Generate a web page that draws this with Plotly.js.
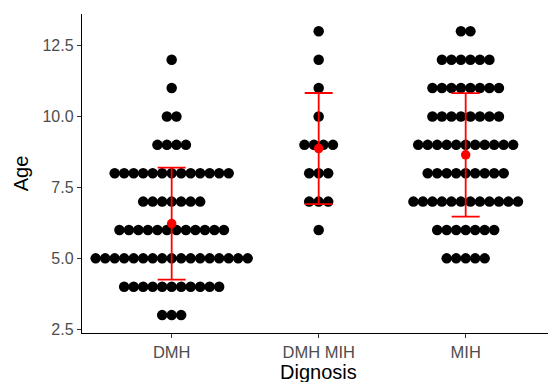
<!DOCTYPE html>
<html>
<head>
<meta charset="utf-8">
<script src="https://cdn.plot.ly/plotly-3.0.1.min.js"></script>
<style>html,body{margin:0;padding:0;background:#fff;}#chart{width:548px;height:382px;}</style>
</head>
<body>
<div id="chart"></div>
<script>
// ---- data ----
var categories = ["DMH", "DMH MIH", "MIH"];
var ages = [3, 4, 5, 6, 7, 8, 9, 10, 11, 12, 13];
var countsDMH    = [3, 11, 17, 12, 7, 13, 4, 2, 1, 1, 0];
var countsDMHMIH = [0, 0, 0, 1, 3, 3, 4, 1, 1, 1, 1];
var countsMIH    = [0, 0, 5, 7, 12, 9, 11, 8, 8, 6, 2];
var yTickVals = [2.5, 5.0, 7.5, 10.0, 12.5];
var yTickText = ["2.5", "5.0", "7.5", "10.0", "12.5"];

// ---- layout geometry ----
var W = 548, H = 382;
var mL = 82, mR = 0, mT = 14, mB = 49;
var xRange = [0.39, 3.56];
var yRange = [2.37, 13.61];
var plotW = W - mL - mR;
var pxPerX = plotW / (xRange[1] - xRange[0]);
var dotStepPx = 9.5;
var dotStep = dotStepPx / pxPerX;

var groups = [countsDMH, countsDMHMIH, countsMIH];
var dx = [], dy = [];
var means = [], sds = [], gx = [];
groups.forEach(function (counts, gi) {
  var vals = [];
  counts.forEach(function (n, ai) {
    for (var k = 0; k < n; k++) {
      dx.push(gi + 1 + (k - (n - 1) / 2) * dotStep);
      dy.push(ages[ai]);
      vals.push(ages[ai]);
    }
  });
  var m = vals.reduce(function (a, b) { return a + b; }, 0) / vals.length;
  var v = vals.reduce(function (a, b) { return a + (b - m) * (b - m); }, 0) / (vals.length - 1);
  gx.push(gi + 1); means.push(m); sds.push(Math.sqrt(v));
});

var font = "Liberation Sans, Arial, sans-serif";

var traces = [
  {
    type: "scatter", mode: "markers", x: dx, y: dy,
    marker: {color: "#000000", size: 10.5, line: {width: 0}},
    hoverinfo: "skip", showlegend: false, cliponaxis: false
  },
  {
    type: "scatter", mode: "markers", x: gx, y: means,
    marker: {color: "#FF0000", size: 9.5, line: {width: 0}},
    error_y: {type: "data", array: sds, visible: true, color: "#FF0000", thickness: 1.8, width: 14},
    showlegend: false, cliponaxis: false
  }
];

var layout = {
  width: W, height: H,
  margin: {l: mL, r: mR, t: mT, b: mB, pad: 0},
  paper_bgcolor: "#ffffff", plot_bgcolor: "#ffffff",
  showlegend: false,
  xaxis: {
    range: xRange, tickmode: "array", tickvals: [1, 2, 3], ticktext: categories,
    showgrid: false, zeroline: false, showline: true, linecolor: "#000000", linewidth: 1.2,
    ticks: "outside", ticklen: 4, tickwidth: 1.1, tickcolor: "#333333",
    tickfont: {family: font, size: 16.5, color: "#4D4D4D"}
  },
  yaxis: {
    range: yRange, tickmode: "array", tickvals: yTickVals, ticktext: yTickText,
    showgrid: false, zeroline: false, showline: true, linecolor: "#000000", linewidth: 1.2,
    ticks: "outside", ticklen: 4, tickwidth: 1.1, tickcolor: "#333333",
    tickfont: {family: font, size: 16, color: "#4D4D4D"},
    title: {text: "Age", font: {family: font, size: 20, color: "#000000"}, standoff: 8}
  },
  annotations: [
    {text: "Dignosis", xref: "x", yref: "paper", x: 2.0, y: 0, yshift: -26,
     xanchor: "center", yanchor: "top", showarrow: false,
     font: {family: font, size: 20, color: "#000000"}}
  ]
};

Plotly.newPlot("chart", traces, layout, {displayModeBar: false, staticPlot: true});
</script>
</body>
</html>
